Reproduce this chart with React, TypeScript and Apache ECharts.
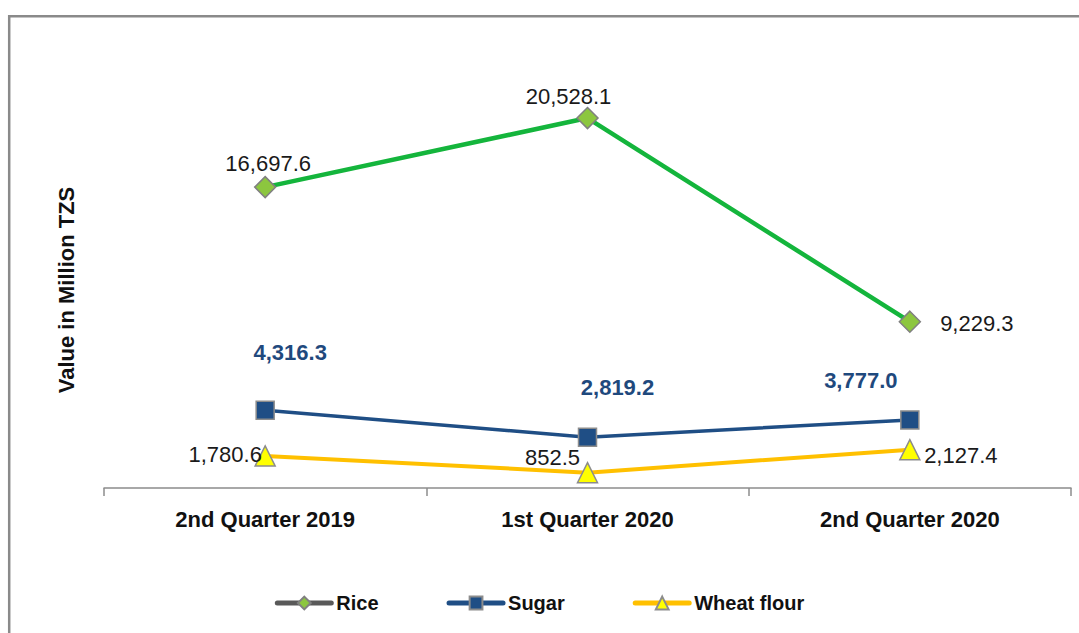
import React, { useEffect, useRef } from "react";
import * as echarts from "echarts";

const categories = ["2nd Quarter 2019", "1st Quarter 2020", "2nd Quarter 2020"];
const rice = [16697.6, 20528.1, 9229.3];
const sugar = [4316.3, 2819.2, 3777.0];
const wheat = [1780.6, 852.5, 2127.4];

// label offsets (relative to each point centre)
const riceLabelOffsets = [[3, -24], [-19, -22], [67, 2]];
const sugarLabelOffsets = [[25, -58], [30, -50], [-49, -39]];
const wheatLabelOffsets = [[-40, -1], [-35, -15], [51, 6]];

const FONT = "'Liberation Sans', Arial, sans-serif";
const fmt = (v: number) =>
  v.toLocaleString("en-US", { minimumFractionDigits: 1, maximumFractionDigits: 1 });

function withLabels(values: number[], offsets: number[][]) {
  return values.map((v, i) => ({
    value: v,
    label: { offset: offsets[i] },
  }));
}

export default function App() {
  const ref = useRef<HTMLDivElement>(null);
  useEffect(() => {
    document.body.style.margin = "0";
    document.body.style.overflow = "hidden";
    if (!ref.current) return;
    const chart = echarts.init(ref.current, undefined, { renderer: "svg" });
    const baseLabel = {
      show: true,
      position: "inside",
      fontFamily: FONT,
      fontSize: 22,
      color: "#1a1a1a",
      formatter: (p: any) => fmt(p.value),
    };
    chart.setOption({
      animation: false,
      backgroundColor: "#ffffff",
      grid: { left: 104, right: 8, top: 55.5, bottom: 145 },
      xAxis: {
        type: "category",
        data: categories,
        boundaryGap: true,
        axisLine: { lineStyle: { color: "#8c8c8c", width: 1.5 } },
        axisTick: { show: true, length: 8, lineStyle: { color: "#8c8c8c", width: 1.5 } },
        axisLabel: {
          margin: 20,
          fontFamily: FONT,
          fontSize: 22,
          fontWeight: "bold",
          color: "#111",
        },
      },
      yAxis: {
        type: "value",
        min: 0,
        max: 24000,
        show: false,
        splitLine: { show: false },
      },
      legend: {
        left: "center",
        top: 588,
        itemWidth: 54,
        itemHeight: 16,
        itemGap: 68,
        textStyle: { fontFamily: FONT, fontSize: 20, fontWeight: "bold", color: "#111" },
        data: [
          { name: "Rice", lineStyle: { color: "#595959", width: 5, cap: "round" } },
          { name: "Sugar", lineStyle: { width: 5, cap: "round" } },
          { name: "Wheat flour", lineStyle: { width: 5, cap: "round" } },
        ],
      },
      graphic: [
        {
          type: "line",
          shape: { x1: 8, y1: 16.2, x2: 1079, y2: 16.2 },
          style: { stroke: "#8a8a8a", lineWidth: 2.5 },
          silent: true,
        },
        {
          type: "line",
          shape: { x1: 9.2, y1: 15, x2: 9.2, y2: 633 },
          style: { stroke: "#8a8a8a", lineWidth: 2.5 },
          silent: true,
        },
        {
          type: "text",
          x: 66,
          y: 290,
          rotation: Math.PI / 2,
          style: {
            text: "Value in Million TZS",
            fontFamily: FONT,
            fontSize: 22,
            fontWeight: "bold",
            fill: "#111",
            align: "center",
            verticalAlign: "middle",
          },
          silent: true,
        },
      ],
      series: [
        {
          name: "Rice",
          type: "line",
          data: withLabels(rice, riceLabelOffsets),
          symbol: "diamond",
          symbolSize: 21,
          lineStyle: { color: "#14b53c", width: 4.5 },
          itemStyle: { color: "#8cc63f", borderColor: "#808080", borderWidth: 1.5 },
          label: { ...baseLabel },
        },
        {
          name: "Sugar",
          type: "line",
          data: withLabels(sugar, sugarLabelOffsets),
          symbol: "rect",
          symbolSize: 18,
          lineStyle: { color: "#1f4e85", width: 3.5 },
          itemStyle: { color: "#1f4e85", borderColor: "#8c8c8c", borderWidth: 1.5 },
          label: { ...baseLabel, color: "#1f497d", fontWeight: "bold" },
        },
        {
          name: "Wheat flour",
          type: "line",
          data: withLabels(wheat, wheatLabelOffsets),
          symbol: "triangle",
          symbolSize: 20,
          lineStyle: { color: "#ffc000", width: 4 },
          itemStyle: { color: "#ffff00", borderColor: "#8c8c8c", borderWidth: 1.5 },
          label: { ...baseLabel },
        },
      ],
    });
    return () => chart.dispose();
  }, []);
  return <div ref={ref} style={{ width: 1079, height: 633 }} />;
}
